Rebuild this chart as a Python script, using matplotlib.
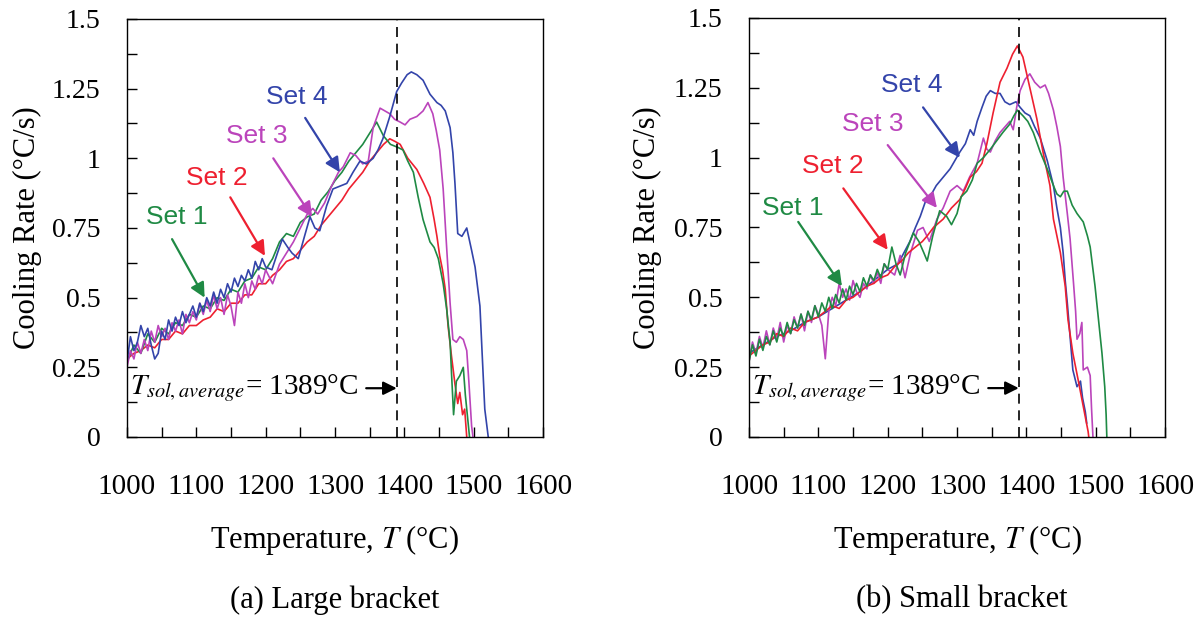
import matplotlib
matplotlib.use("Agg")
import matplotlib.pyplot as plt
from matplotlib.ticker import MultipleLocator, FixedLocator, FixedFormatter

plt.rcParams['font.family'] = ['Liberation Serif', 'DejaVu Serif']
plt.rcParams['mathtext.fontset'] = 'stix'

# ---- data: temperature (C) / cooling rate (C/s) ----
# (a) large bracket
a1_T = [1000, 1010, 1020, 1030, 1040, 1050, 1060, 1070, 1080, 1090, 1100, 1110, 1120, 1130, 1140,
        1150, 1160, 1170, 1180, 1190, 1200, 1210, 1220, 1230, 1240, 1250, 1260, 1270, 1280, 1290,
        1300, 1310, 1320, 1330, 1340, 1350, 1360, 1370, 1380, 1390, 1398, 1405, 1413, 1420, 1427,
        1437, 1443, 1449, 1456, 1461, 1466, 1468, 1471, 1475, 1480, 1485, 1488, 1492, 1494]
a1_R = [0.27, 0.33, 0.30, 0.37, 0.34, 0.39, 0.37, 0.41, 0.40, 0.44, 0.43, 0.47, 0.46, 0.50, 0.49,
        0.53, 0.52, 0.56, 0.57, 0.61, 0.60, 0.64, 0.70, 0.73, 0.72, 0.77, 0.79, 0.80, 0.85, 0.88,
        0.92, 0.95, 0.99, 1.02, 1.05, 1.09, 1.13, 1.08, 1.05, 1.04, 1.03, 0.99, 0.95, 0.86, 0.78,
        0.70, 0.68, 0.64, 0.55, 0.46, 0.34, 0.23, 0.08, 0.20, 0.22, 0.25, 0.15, 0.05, 0.0]

a2_T = [1000, 1010, 1020, 1030, 1040, 1050, 1060, 1070, 1080, 1090, 1100, 1110, 1120, 1130, 1140,
        1150, 1160, 1170, 1180, 1190, 1200, 1210, 1220, 1230, 1240, 1250, 1260, 1270, 1280, 1290,
        1300, 1310, 1320, 1330, 1340, 1350, 1360, 1370, 1379, 1387, 1394, 1405, 1418, 1428, 1437,
        1443, 1447, 1451, 1455, 1459, 1463, 1468, 1473, 1477, 1480, 1484, 1487, 1490]
a2_R = [0.28, 0.30, 0.31, 0.33, 0.32, 0.35, 0.35, 0.38, 0.37, 0.40, 0.40, 0.42, 0.43, 0.46, 0.45,
        0.48, 0.48, 0.51, 0.51, 0.55, 0.55, 0.58, 0.60, 0.63, 0.64, 0.67, 0.70, 0.72, 0.76, 0.79,
        0.82, 0.85, 0.89, 0.92, 0.95, 0.99, 1.02, 1.05, 1.07, 1.06, 1.05, 1.00, 0.96, 0.91, 0.86,
        0.78, 0.72, 0.65, 0.60, 0.53, 0.40, 0.29, 0.19, 0.12, 0.16, 0.08, 0.10, 0.0]

a3_T = [1000, 1005, 1010, 1015, 1020, 1025, 1030, 1035, 1040, 1045, 1050, 1055, 1060, 1065, 1070,
        1075, 1080, 1085, 1090, 1095, 1100, 1105, 1110, 1115, 1120, 1125, 1130, 1135, 1140, 1145,
        1150, 1155, 1160, 1165, 1170, 1175, 1180, 1185, 1190, 1195, 1200,
        1210, 1220, 1230, 1240, 1250, 1260, 1268, 1275,
        1285, 1295, 1305, 1312, 1322, 1330, 1340, 1348, 1355, 1365, 1372, 1379, 1386, 1394, 1401,
        1408, 1418, 1427, 1434, 1441, 1446, 1451, 1456, 1461, 1466, 1470, 1475, 1480, 1485, 1490,
        1493, 1497, 1499]
a3_R = [0.25, 0.31, 0.28, 0.34, 0.30, 0.35, 0.31, 0.38, 0.34, 0.40, 0.36, 0.39, 0.35, 0.41, 0.38,
        0.42, 0.37, 0.44, 0.41, 0.45, 0.42, 0.48, 0.44, 0.49, 0.45, 0.51, 0.46, 0.50, 0.44, 0.51,
        0.47, 0.40, 0.52, 0.48, 0.55, 0.50, 0.56, 0.53, 0.58, 0.55, 0.60,
        0.55, 0.62, 0.66, 0.70, 0.75, 0.80, 0.82, 0.80,
        0.84, 0.90, 0.95, 0.97, 1.02, 1.01, 0.98, 0.99, 1.11, 1.18, 1.17, 1.16, 1.14, 1.13, 1.12,
        1.14, 1.15, 1.17, 1.20, 1.16, 1.10, 1.03, 0.89, 0.68, 0.48, 0.35, 0.34, 0.36, 0.35, 0.31,
        0.20, 0.04, 0.0]

a4_T = [1000, 1005, 1010, 1015, 1020, 1025, 1030, 1035, 1040, 1045, 1050, 1055, 1060, 1065, 1070,
        1075, 1080, 1085, 1090, 1095, 1100, 1105, 1110, 1115, 1120, 1125, 1130, 1135, 1140, 1145,
        1150, 1155, 1160, 1165, 1170, 1175, 1180, 1185, 1190, 1195, 1200,
        1209, 1217, 1224, 1232, 1238, 1247, 1256, 1264,
        1271, 1278, 1288, 1297, 1307, 1317, 1326, 1336, 1345, 1355, 1362, 1369, 1379, 1389, 1396,
        1404, 1410, 1418, 1427, 1437, 1447, 1453, 1459, 1466, 1470, 1473, 1477, 1483, 1490, 1497,
        1502, 1509, 1512, 1516, 1521]
a4_R = [0.27, 0.36, 0.31, 0.34, 0.40, 0.36, 0.39, 0.33, 0.28, 0.30, 0.38, 0.35, 0.42, 0.38, 0.43,
        0.40, 0.45, 0.41, 0.44, 0.47, 0.43, 0.48, 0.45, 0.50, 0.47, 0.52, 0.48, 0.53, 0.50, 0.55,
        0.52, 0.57, 0.54, 0.58, 0.56, 0.60, 0.57, 0.63, 0.60, 0.64, 0.61,
        0.60, 0.66, 0.71, 0.68, 0.66, 0.64, 0.72, 0.79,
        0.75, 0.74, 0.83, 0.89, 0.90, 0.91, 0.95, 0.99, 0.98, 1.00, 1.03, 1.07, 1.15, 1.24, 1.27,
        1.30, 1.31, 1.30, 1.28, 1.23, 1.20, 1.19, 1.17, 1.11, 1.02, 0.91, 0.73, 0.72, 0.75, 0.67,
        0.61, 0.47, 0.31, 0.10, 0.0]

# (b) small bracket
b1_T = [1000, 1005, 1010, 1015, 1020, 1025, 1030, 1035, 1040, 1045, 1050, 1055, 1060, 1065, 1070,
        1075, 1080, 1085, 1090, 1095, 1100, 1105, 1110, 1115, 1120, 1125, 1130, 1135, 1140, 1145,
        1150, 1155, 1160, 1165, 1170, 1175, 1180, 1185, 1190, 1195, 1200,
        1206, 1212, 1218, 1226, 1237, 1245, 1252, 1257, 1265,
        1275, 1285, 1292, 1300, 1306, 1314, 1322, 1329, 1338, 1348, 1357, 1366, 1376, 1382, 1387,
        1395, 1402, 1410, 1420, 1430, 1439, 1444, 1449, 1454, 1459, 1466, 1473, 1482, 1488, 1492,
        1496, 1499, 1504, 1509, 1513, 1515, 1516]
b1_R = [0.27, 0.33, 0.29, 0.35, 0.31, 0.36, 0.33, 0.38, 0.34, 0.39, 0.36, 0.41, 0.37, 0.42, 0.39,
        0.44, 0.40, 0.45, 0.42, 0.47, 0.43, 0.48, 0.45, 0.50, 0.46, 0.51, 0.48, 0.53, 0.49, 0.54,
        0.51, 0.55, 0.52, 0.57, 0.54, 0.58, 0.56, 0.60, 0.57, 0.62, 0.60,
        0.68, 0.62, 0.58, 0.66, 0.73, 0.70, 0.66, 0.63, 0.72,
        0.81, 0.79, 0.76, 0.80, 0.86, 0.88, 0.92, 0.98, 1.00, 1.03, 1.06, 1.09, 1.12, 1.15, 1.17,
        1.15, 1.13, 1.09, 1.02, 0.96, 0.90, 0.87, 0.86, 0.88, 0.88, 0.83, 0.80, 0.77, 0.72, 0.68,
        0.60, 0.54, 0.42, 0.30, 0.18, 0.08, 0.0]

b2_T = [1000, 1010, 1020, 1030, 1040, 1050, 1060, 1070, 1080, 1090, 1100, 1110, 1120, 1130, 1140,
        1150, 1160, 1170, 1180, 1190, 1200, 1210, 1220, 1230, 1240, 1250, 1257, 1266, 1280, 1292,
        1304, 1312, 1319, 1328, 1336, 1343, 1352, 1362, 1372, 1380, 1387, 1395, 1405, 1415, 1424,
        1434, 1439, 1449, 1456, 1460, 1467, 1475, 1482, 1489, 1490]
b2_R = [0.29, 0.31, 0.33, 0.34, 0.37, 0.36, 0.39, 0.38, 0.41, 0.42, 0.43, 0.45, 0.47, 0.46, 0.49,
        0.50, 0.52, 0.54, 0.55, 0.57, 0.58, 0.61, 0.63, 0.66, 0.68, 0.70, 0.72, 0.75, 0.78, 0.82,
        0.85, 0.89, 0.93, 0.95, 0.98, 1.05, 1.16, 1.27, 1.32, 1.37, 1.40, 1.36, 1.25, 1.14, 1.02,
        0.90, 0.78, 0.66, 0.54, 0.42, 0.30, 0.20, 0.11, 0.02, 0.0]

b3_T = [1000, 1005, 1010, 1015, 1020, 1025, 1030, 1035, 1040, 1045, 1050, 1055, 1060, 1065, 1070,
        1075, 1080, 1085, 1090, 1095, 1100, 1105, 1110, 1115, 1120, 1125, 1130, 1135, 1140, 1145,
        1150, 1155, 1160, 1165, 1170, 1175, 1180, 1185, 1190, 1195, 1200,
        1210, 1218, 1225, 1233, 1243, 1251, 1260,
        1271, 1280, 1290, 1300, 1309, 1318, 1329, 1338, 1343, 1348, 1355, 1362, 1369, 1376, 1381,
        1386, 1391, 1398, 1405, 1412, 1420, 1427, 1432, 1439, 1444, 1449, 1453, 1459, 1463, 1468,
        1471, 1473, 1477, 1480, 1482, 1488, 1492, 1494, 1496]
b3_R = [0.27, 0.34, 0.30, 0.36, 0.32, 0.38, 0.33, 0.39, 0.35, 0.41, 0.34, 0.40, 0.37, 0.43, 0.39,
        0.44, 0.38, 0.45, 0.41, 0.47, 0.44, 0.40, 0.28, 0.45, 0.50, 0.47, 0.55, 0.50, 0.53, 0.49,
        0.56, 0.52, 0.50, 0.55, 0.53, 0.58, 0.55, 0.59, 0.55, 0.62, 0.60,
        0.58, 0.65, 0.57, 0.66, 0.74, 0.75, 0.70,
        0.78, 0.82, 0.88, 0.90, 0.88, 0.93, 0.98, 1.07, 1.03, 1.02, 1.06, 1.09, 1.11, 1.13, 1.10,
        1.18, 1.24, 1.28, 1.30, 1.27, 1.25, 1.26, 1.23, 1.17, 1.11, 1.04, 0.93, 0.80, 0.71, 0.55,
        0.45, 0.35, 0.37, 0.41, 0.24, 0.25, 0.22, 0.10, 0.0]

b4_T = [1000, 1020, 1040, 1060, 1080, 1100, 1120, 1140, 1160, 1180, 1200, 1215, 1232, 1240, 1247,
        1254, 1261, 1270, 1280, 1290, 1297, 1304, 1312, 1319, 1324, 1329, 1336, 1342, 1348, 1355,
        1362, 1369, 1376, 1385, 1391, 1398, 1405, 1412, 1420, 1430, 1439, 1444, 1449, 1453, 1456,
        1459, 1463, 1467, 1473, 1478, 1481, 1485, 1487]
b4_R = [0.30, 0.33, 0.36, 0.38, 0.41, 0.43, 0.46, 0.49, 0.52, 0.56, 0.60, 0.62, 0.70, 0.75, 0.79,
        0.84, 0.86, 0.90, 0.93, 0.96, 0.99, 1.02, 1.05, 1.10, 1.08, 1.13, 1.18, 1.22, 1.24, 1.23,
        1.23, 1.20, 1.19, 1.20, 1.18, 1.16, 1.15, 1.11, 1.07, 0.99, 0.90, 0.82, 0.75, 0.66, 0.56,
        0.48, 0.36, 0.24, 0.18, 0.20, 0.14, 0.09, 0.05]

set_names = ['Set 1', 'Set 2', 'Set 3', 'Set 4']
colors = ['#1f8a44', '#ee2030', '#bb44bb', '#3344aa']
y_labels = ['0', '0.25', '0.5', '0.75', '1', '1.25', '1.5']
T_sol = 1389

# label text position, arrow tail, arrow head (data coords)
a_notes = [((1072, 0.79), (1065, 0.71), (1112, 0.50)),
           ((1130, 0.93), (1149, 0.86), (1199, 0.65)),
           ((1187, 1.08), (1211, 1.00), (1267, 0.79)),
           ((1245, 1.22), (1257, 1.145), (1307, 0.95))]
b_notes = [((1063, 0.82), (1071, 0.77), (1134, 0.54)),
           ((1121, 0.97), (1136, 0.89), (1200, 0.67)),
           ((1179, 1.12), (1200, 1.045), (1271, 0.82)),
           ((1235, 1.26), (1251, 1.18), (1304, 1.00))]

fig = plt.figure(figsize=(11.99, 6.18), dpi=100)
ax_a = fig.add_axes([0.1059, 0.2929, 0.3470, 0.6764])
ax_b = fig.add_axes([0.6247, 0.2929, 0.3470, 0.6780])


def draw_panel(ax, curves, order, notes, ylab_x):
    for i in order:
        T, R = curves[i]
        ax.plot(T, R, color=colors[i], lw=1.2)

    ax.axvline(T_sol, color='black', lw=1.2, ls=(0, (6, 4)))

    for i, (txt, tail, head) in enumerate(notes):
        ax.text(txt[0], txt[1], set_names[i], color=colors[i], fontsize=19,
                family=['Liberation Sans', 'DejaVu Sans'], ha='center', va='center')
        ax.annotate('', xy=head, xytext=tail,
                    arrowprops=dict(arrowstyle='-|>', color=colors[i], lw=1.6,
                                    mutation_scale=22, shrinkA=0, shrinkB=0))

    ax.text(1004, 0.175, r'$T_{sol,average}$= 1389°C', fontsize=21, ha='left', va='center')
    ax.annotate('', xy=(T_sol, 0.175), xytext=(1345, 0.175),
                arrowprops=dict(arrowstyle='-|>', color='black', lw=1.6,
                                mutation_scale=20, shrinkA=0, shrinkB=0))

    ax.set_xlim(1000, 1600)
    ax.set_ylim(0, 1.5)
    ax.xaxis.set_major_locator(MultipleLocator(100))
    ax.xaxis.set_minor_locator(MultipleLocator(50))
    ax.yaxis.set_major_locator(FixedLocator([0, 0.25, 0.5, 0.75, 1.0, 1.25, 1.5]))
    ax.yaxis.set_major_formatter(FixedFormatter(y_labels))
    ax.yaxis.set_minor_locator(MultipleLocator(0.125))
    ax.tick_params(which='both', direction='in', length=7, width=1.0, color='black')
    ax.tick_params(axis='x', which='major', pad=27, labelsize=21)
    ax.tick_params(axis='y', which='major', pad=19, labelsize=20)
    for sp in ax.spines.values():
        sp.set_linewidth(1.0)

    ax.set_xlabel('Temperature, $T$ (°C)', fontsize=22, va='center')
    ax.xaxis.set_label_coords(0.5, -0.246)
    ax.set_ylabel('Cooling Rate (°C/s)', fontsize=22, va='center')
    ax.yaxis.set_label_coords(ylab_x, 0.5)


draw_panel(ax_a, [(a1_T, a1_R), (a2_T, a2_R), (a3_T, a3_R), (a4_T, a4_R)],
           [1, 0, 2, 3], a_notes, -0.238)
draw_panel(ax_b, [(b1_T, b1_R), (b2_T, b2_R), (b3_T, b3_R), (b4_T, b4_R)],
           [3, 2, 1, 0], b_notes, -0.243)

fig.text(335 / 1199, 1 - 600 / 618, '(a) Large bracket', fontsize=22, ha='center', va='center')
fig.text(962 / 1199, 1 - 600 / 618, '(b) Small bracket', fontsize=22, ha='center', va='center')

fig.savefig('out.png', dpi=100)
